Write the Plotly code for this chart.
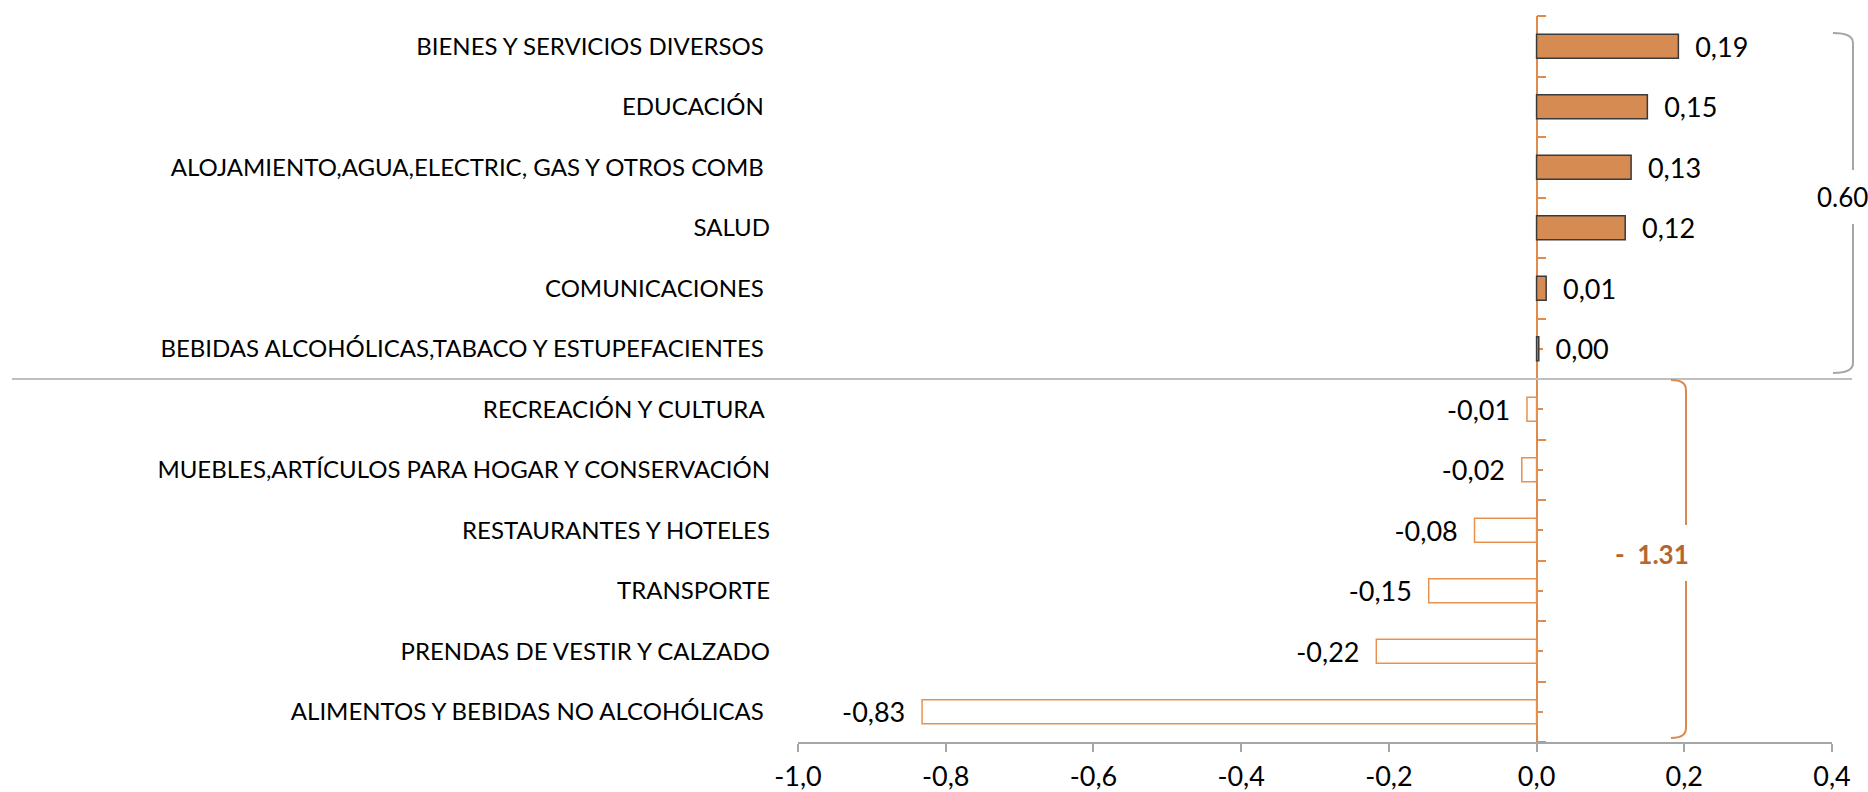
import plotly.graph_objects as go

# categories listed bottom -> top (plotly draws the first category at the bottom)
categories = [
    "ALIMENTOS Y BEBIDAS NO ALCOHÓLICAS\u00a0",
    "PRENDAS DE VESTIR Y CALZADO",
    "TRANSPORTE",
    "RESTAURANTES Y HOTELES",
    "MUEBLES,ARTÍCULOS PARA HOGAR Y CONSERVACIÓN",
    "RECREACIÓN Y CULTURA\u00a0",
    "BEBIDAS ALCOHÓLICAS,TABACO Y ESTUPEFACIENTES\u00a0",
    "COMUNICACIONES\u00a0",
    "SALUD",
    "ALOJAMIENTO,AGUA,ELECTRIC, GAS Y OTROS COMB\u00a0",
    "EDUCACIÓN\u00a0",
    "BIENES Y SERVICIOS DIVERSOS\u00a0",
]
values = [-0.832, -0.217, -0.146, -0.084, -0.020, -0.013,
          0.003, 0.013, 0.120, 0.128, 0.150, 0.192]

group_totals = ["0.60", "-\u00a0\u00a01.31"]
x_ticks = [-1.0, -0.8, -0.6, -0.4, -0.2, 0.0, 0.2, 0.4]
x_tick_text = ["-1,0", "-0,8", "-0,6", "-0,4", "-0,2", "0,0", "0,2", "0,4"]

POS_FILL = "#D68B52"
POS_EDGE = "#3A3A3A"
NEG_EDGE = "#E8914F"
AXIS_ORANGE = "#E08A4C"
GRAY = "#A6A6A6"
FONT = "Lato, sans-serif"
FS_CAT = 24
FS_NUM = 27
FS_TOT = 26

# plot area in pixels (used to place the decorations in paper units)
L, R, T, B = 798, 1832, 16, 742


def px(xp):
    return (xp - L) / (R - L)


def py(yp):
    return (B - yp) / (B - T)


fig = go.Figure()

fig.add_trace(
    go.Bar(
        x=values,
        y=categories,
        orientation="h",
        width=0.4,
        marker={
            "color": [POS_FILL if v > 0 else "white" for v in values],
            "line": {
                "color": [POS_EDGE if v > 0 else NEG_EDGE for v in values],
                "width": 1.5,
            },
        },
        texttemplate=[
            "\u00a0\u00a0%{x:.2f}" if v > 0 else "%{x:.2f}\u00a0\u00a0" for v in values
        ],
        textposition="outside",
        constraintext="none",
        textfont={"size": FS_NUM, "color": "black", "family": FONT},
        cliponaxis=False,
        showlegend=False,
        hoverinfo="skip",
    )
)

# invisible trace so the orange zero axis gets drawn
fig.add_trace(
    go.Scatter(
        x=[0],
        y=[0],
        yaxis="y2",
        mode="markers",
        marker={"opacity": 0},
        showlegend=False,
        hoverinfo="skip",
    )
)

n = len(categories)
boundaries = [i - 0.5 for i in range(n + 1)]
centers = list(range(n))

fig.update_layout(
    width=1868,
    height=792,
    margin={"l": L, "r": 1868 - R, "t": T, "b": 792 - B, "autoexpand": False},
    paper_bgcolor="white",
    plot_bgcolor="white",
    separators=",.",
    font={"family": FONT, "size": FS_CAT, "color": "black"},
    xaxis={
        "range": [-1.0, 0.4],
        "tickvals": x_ticks,
        "ticktext": x_tick_text,
        "showgrid": False,
        "zeroline": False,
        "showline": True,
        "linecolor": GRAY,
        "linewidth": 1.5,
        "ticks": "outside",
        "ticklen": 8,
        "tickcolor": GRAY,
        "tickwidth": 1.5,
        "ticklabelstandoff": 2,
        "tickfont": {"size": FS_NUM},
        "automargin": False,
    },
    yaxis={
        "type": "category",
        "categoryorder": "array",
        "categoryarray": categories,
        "range": [-0.5, n - 0.5],
        "showgrid": False,
        "zeroline": False,
        "showline": False,
        "ticks": "",
        "ticklabelstandoff": 27,
        "tickfont": {"size": FS_CAT},
        "automargin": False,
    },
    yaxis2={
        "overlaying": "y",
        "anchor": "free",
        "position": px(L + (0 - (-1.0)) / 1.4 * (R - L)),
        "side": "right",
        "range": [-0.5, n - 0.5],
        "showgrid": False,
        "zeroline": False,
        "showline": True,
        "linecolor": AXIS_ORANGE,
        "linewidth": 1.5,
        "ticks": "outside",
        "tickvals": boundaries,
        "ticklen": 9,
        "tickcolor": AXIS_ORANGE,
        "tickwidth": 1.5,
        "showticklabels": False,
        "minor": {
            "tickvals": centers,
            "ticks": "outside",
            "ticklen": 6,
            "tickcolor": AXIS_ORANGE,
            "tickwidth": 1.5,
        },
        "layer": "below traces",
        "automargin": False,
    },
)

# separator between positive and negative groups
fig.add_shape(
    type="line",
    xref="paper",
    yref="paper",
    x0=px(12),
    x1=px(1852),
    y0=0.5,
    y1=0.5,
    line={"color": "#BFBFBF", "width": 2},
)


def bracket(x_line, x_hook, y_top, y_bot, gap_top, gap_bot, color):
    r = 10
    up = (
        f"M {px(x_hook)},{py(y_top)} Q {px(x_line)},{py(y_top)} {px(x_line)},{py(y_top + r)} "
        f"L {px(x_line)},{py(gap_top)}"
    )
    down = (
        f"M {px(x_line)},{py(gap_bot)} L {px(x_line)},{py(y_bot - r)} "
        f"Q {px(x_line)},{py(y_bot)} {px(x_hook)},{py(y_bot)}"
    )
    for path in (up, down):
        fig.add_shape(
            type="path",
            xref="paper",
            yref="paper",
            path=path,
            line={"color": color, "width": 2},
        )


bracket(1853, 1833, 33, 373, 170, 224, GRAY)
bracket(1686, 1671, 380, 738, 525, 581, "#D98A52")

fig.add_annotation(
    text=group_totals[0],
    xref="paper",
    yref="paper",
    x=px(1842),
    y=py(197),
    xanchor="center",
    yanchor="middle",
    showarrow=False,
    font={"size": FS_TOT, "color": "black"},
)
fig.add_annotation(
    text=f"<b>{group_totals[1]}</b>",
    xref="paper",
    yref="paper",
    x=px(1652),
    y=py(554),
    xanchor="center",
    yanchor="middle",
    showarrow=False,
    font={"size": FS_TOT, "color": "#B5662E"},
)

fig.write_html(
    "out.html",
    config={"displayModeBar": False},
    post_script="document.body.style.margin='0';",
)
